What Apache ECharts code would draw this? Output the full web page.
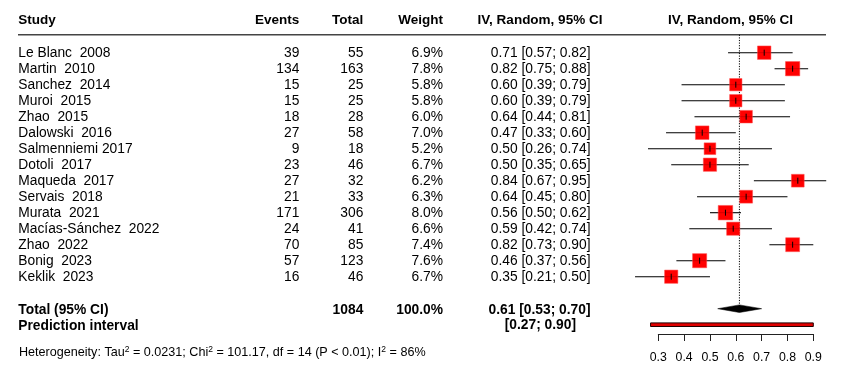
<!DOCTYPE html>
<html>
<head>
<meta charset="utf-8">
<script src="https://cdn.jsdelivr.net/npm/echarts@6/dist/echarts.min.js"></script>
<style>
html,body{margin:0;padding:0;background:#fff;}
#chart{width:850px;height:384px;}
</style>
</head>
<body>
<div id="chart"></div>
<script>
// ---------- data ----------
const studies = ["Le Blanc  2008","Martin  2010","Sanchez  2014","Muroi  2015","Zhao  2015","Dalowski  2016","Salmenniemi 2017","Dotoli  2017","Maqueda  2017","Servais  2018","Murata  2021","Macías-Sánchez  2022","Zhao  2022","Bonig  2023","Keklik  2023"];
const events = [39,134,15,15,18,27,9,23,27,21,171,24,70,57,16];
const totals = [55,163,25,25,28,58,18,46,32,33,306,41,85,123,46];
const weights = [6.9,7.8,5.8,5.8,6.0,7.0,5.2,6.7,6.2,6.3,8.0,6.6,7.4,7.6,6.7];
const est = [0.71,0.82,0.60,0.60,0.64,0.47,0.50,0.50,0.84,0.64,0.56,0.59,0.82,0.46,0.35];
const lo  = [0.57,0.75,0.39,0.39,0.44,0.33,0.26,0.35,0.67,0.45,0.50,0.42,0.73,0.37,0.21];
const hi  = [0.82,0.88,0.79,0.79,0.81,0.60,0.74,0.65,0.95,0.80,0.62,0.74,0.90,0.56,0.50];
const pooledEst = [0.614];
const pooledLo = [0.53];
const pooledHi = [0.70];
const predInterval = [0.27, 0.90];
const totalN = 1084;
const totalWeight = "100.0%";
const totalLabel = "Total (95% CI)";
const predLabel = "Prediction interval";
const totalCI = "0.61 [0.53; 0.70]";
const predCI = "[0.27; 0.90]";
const tickValues = [0.3,0.4,0.5,0.6,0.7,0.8,0.9];
const headers = ["Study","Events","Total","Weight","IV, Random, 95% CI","IV, Random, 95% CI"];
const heterogeneity = "Heterogeneity: Tau{s|2} = 0.0231; Chi{s|2} = 101.17, df = 14 (P < 0.01); I{s|2} = 86%";

// ---------- build table columns ----------
const nRows = studies.length + 3;
const rowIds = Array.from({length:nRows}, (_,i)=>'r'+i);
const studyCol = studies.concat(['', totalLabel, predLabel]);
const eventsCol = events.map(String).concat(['', '', '']);
const totalCol = totals.map(String).concat(['', String(totalN), '']);
const weightCol = weights.map(w=>w.toFixed(1)+'%').concat(['', totalWeight, '']);
const ciCol = est.map((e,i)=>e.toFixed(2)+' ['+lo[i].toFixed(2)+'; '+hi[i].toFixed(2)+']').concat(['', totalCI, predCI]);

const FONT = 'Liberation Sans, Arial, Helvetica, sans-serif';
const BODY = 13.8;
const HEAD = 13.5;

const xMin = 0.2, xMax = 1.0;
const pxPerUnit = 258.33;
const gridLeft = 658.3 - (tickValues[0]-xMin)*pxPerUnit;
const gridWidth = (xMax-xMin)*pxPerUnit;
const rowH = 16;
const gridTop = 52.7 - rowH/2;

function labelAxis(col, targetX, align) {
  return {
    type:'category', gridIndex:0, data: rowIds, inverse:true, position:'left',
    offset: gridLeft - targetX,
    axisLine:{show:false}, axisTick:{show:false}, splitLine:{show:false},
    axisLabel:{
      show:true, interval:0, margin:0, align: align, hideOverlap:false,
      fontFamily:FONT, fontSize:BODY, color:'#000',
      formatter:(v)=>{
        const i = +v.slice(1);
        const t = col[i];
        if (!t) return '';
        if (i === nRows-1 && col === ciCol) return '{p|'+t+'}';
        if (i >= nRows-2) return '{b|'+t+'}';
        return t;
      },
      rich:{
        b:{fontFamily:FONT, fontSize:BODY, fontWeight:'bold', color:'#000', padding:[2.5,0,0,0]},
        p:{fontFamily:FONT, fontSize:BODY, fontWeight:'bold', color:'#000', padding:[0,14.5,0,0]}
      }
    }
  };
}

const studyData = studies.map((s,i)=>[i, est[i], lo[i], hi[i], weights[i]]);

const chart = echarts.init(document.getElementById('chart'), null, {renderer:'canvas'});
chart.setOption({
  animation:false,
  backgroundColor:'#fff',
  grid:[
    {left:gridLeft, width:gridWidth, top:gridTop, height:rowH*nRows, containLabel:false},
    {left:658.3, width:(tickValues[tickValues.length-1]-tickValues[0])*pxPerUnit, top:333, height:1, containLabel:false}
  ],
  xAxis:[
    {type:'value', gridIndex:0, min:xMin, max:xMax, show:false},
    {type:'value', gridIndex:1, position:'bottom',
     min:tickValues[0], max:tickValues[tickValues.length-1], interval:0.1,
     axisLine:{show:true, lineStyle:{color:'#222', width:1}},
     axisTick:{show:true, length:7, lineStyle:{color:'#222', width:1}},
     splitLine:{show:false},
     axisLabel:{margin:17.5, fontFamily:FONT, fontSize:12.3, color:'#000',
       formatter:(v)=>v.toFixed(1)}}
  ],
  yAxis:[
    {type:'category', gridIndex:0, data:rowIds, inverse:true, show:false},
    labelAxis(studyCol, 18.3, 'left'),
    labelAxis(eventsCol, 299.3, 'right'),
    labelAxis(totalCol, 363.3, 'right'),
    labelAxis(weightCol, 443, 'right'),
    labelAxis(ciCol, 590.5, 'right'),
    {type:'value', gridIndex:1, show:false}
  ],
  graphic:{elements:[
    {type:'text', x:18.3, y:20.7, style:{text:headers[0], align:'left', verticalAlign:'middle', fontFamily:FONT, fontSize:HEAD, fontWeight:'bold', fill:'#000'}},
    {type:'text', x:299.3, y:20.7, style:{text:headers[1], align:'right', verticalAlign:'middle', fontFamily:FONT, fontSize:HEAD, fontWeight:'bold', fill:'#000'}},
    {type:'text', x:363.3, y:20.7, style:{text:headers[2], align:'right', verticalAlign:'middle', fontFamily:FONT, fontSize:HEAD, fontWeight:'bold', fill:'#000'}},
    {type:'text', x:443, y:20.7, style:{text:headers[3], align:'right', verticalAlign:'middle', fontFamily:FONT, fontSize:HEAD, fontWeight:'bold', fill:'#000'}},
    {type:'text', x:540, y:20.7, style:{text:headers[4], align:'center', verticalAlign:'middle', fontFamily:FONT, fontSize:HEAD, fontWeight:'bold', fill:'#000'}},
    {type:'text', x:730.5, y:20.7, style:{text:headers[5], align:'center', verticalAlign:'middle', fontFamily:FONT, fontSize:HEAD, fontWeight:'bold', fill:'#000'}},
    {type:'line', shape:{x1:18, y1:34.7, x2:826, y2:34.7}, style:{stroke:'#444', lineWidth:1.5}},
    {type:'text', x:19, y:353, style:{text:heterogeneity, align:'left', verticalAlign:'middle', fontFamily:FONT, fontSize:12.6, fill:'#000', lineHeight:15,
      rich:{s:{fontFamily:FONT, fontSize:8.5, lineHeight:8, verticalAlign:'top', fill:'#000'}}}}
  ]},
  series:[
    {
      type:'custom', xAxisIndex:0, yAxisIndex:0,
      data:[[nRows-2, pooledEst[0], pooledLo[0], pooledHi[0], predInterval[0], predInterval[1]]],
      encode:{x:[1,2,3,4,5], y:0},
      renderItem:(params, api)=>{
        const r = api.value(0);
        const band = api.size([0,1])[1];
        const c = api.coord([api.value(1), r]);
        const l = api.coord([api.value(2), r]);
        const h = api.coord([api.value(3), r]);
        const top0 = api.coord([api.value(1), 0])[1] - band*1.125;
        const hh = 3.8;
        const pr = api.coord([api.value(4), r+1]);
        const ph = api.coord([api.value(5), r+1]);
        return {type:'group', children:[
          {type:'line', shape:{x1:c[0], y1:top0, x2:c[0], y2:c[1]-hh}, style:{stroke:'#000', lineWidth:1, lineDash:[1.2,1.4]}},
          {type:'polygon', shape:{points:[[l[0],c[1]],[c[0],c[1]-hh],[h[0],c[1]],[c[0],c[1]+hh]]}, style:{fill:'#000', stroke:'#000', lineWidth:0.5}},
          {type:'rect', shape:{x:pr[0], y:pr[1]-1.8, width:ph[0]-pr[0], height:3.6}, style:{fill:'#e00000', stroke:'#200', lineWidth:1}}
        ]};
      }
    },
    {
      type:'custom', xAxisIndex:0, yAxisIndex:0,
      data:studyData,
      encode:{x:[1,2,3], y:0},
      renderItem:(params, api)=>{
        const r = api.value(0);
        const c = api.coord([api.value(1), r]);
        const l = api.coord([api.value(2), r]);
        const h = api.coord([api.value(3), r]);
        const s = 14.5*Math.sqrt(api.value(4)/8);
        return {type:'group', children:[
          {type:'line', shape:{x1:l[0], y1:c[1], x2:h[0], y2:c[1]}, style:{stroke:'#000', lineWidth:1.1}},
          {type:'rect', shape:{x:c[0]-s/2, y:c[1]-s/2, width:s, height:s}, style:{fill:'#ff0000', stroke:'rgba(255,80,80,0.5)', lineWidth:1}},
          {type:'line', shape:{x1:c[0]-s/2, y1:c[1], x2:c[0]+s/2, y2:c[1]}, style:{stroke:'rgba(110,0,0,0.3)', lineWidth:1}},
          {type:'line', shape:{x1:c[0], y1:c[1]-3, x2:c[0], y2:c[1]+3}, style:{stroke:'#000', lineWidth:1}}
        ]};
      }
    }
  ]
});
</script>
</body>
</html>
